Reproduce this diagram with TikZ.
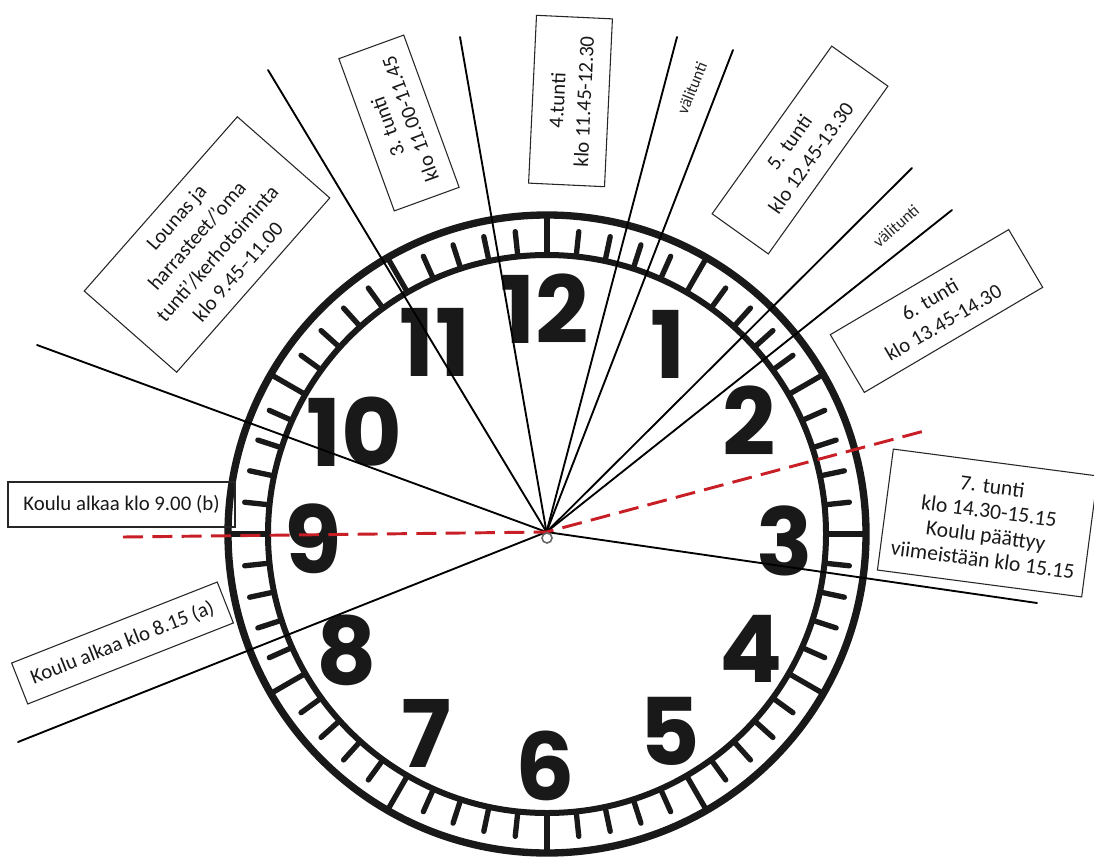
\documentclass[tikz,border=0pt]{standalone}
\usepackage{fontspec}
\setmainfont{Carlito}
\newfontfamily\numfont{Poppins}[Numbers=Proportional]
\begin{document}
\begin{tikzpicture}[x=0.75pt,y=0.75pt,
  box/.style={draw=black!85, line width=0.8pt, align=center, inner sep=0pt, text=black!90,
    font=\fontsize{15.6}{20}\selectfont},
  smalltext/.style={inner sep=0pt, text=black!85, font=\fontsize{12.5}{14}\selectfont},
  ray/.style={line width=1.4pt, line cap=round},
  reddash/.style={draw={rgb,255:red,200;green,30;blue,38}, line width=2.2pt, dash pattern=on 15pt off 7pt},
  num/.style={font=\numfont\bfseries\fontsize{70}{70}\selectfont, inner sep=0pt, text=black!90},
  longtick/.style={line width=4pt},
  shorttick/.style={line width=4pt, line cap=round}]

\fill[white] (0,0) rectangle (1094,-859);
\useasboundingbox (0,0) rectangle (1094,-859);

% clock face
\coordinate (C) at (547,-534);
\draw[line width=5.5pt, black!90] (C) circle[radius=319];
\draw[line width=4.5pt, black!90] (C) circle[radius=279];
\foreach \i in {0,...,59}{
  \pgfmathtruncatemacro\m{mod(\i,5)}
  \ifnum\m=0
    \draw[longtick, black!90] ([shift={(6*\i:279)}]C) -- ([shift={(6*\i:319)}]C);
  \else
    \draw[shorttick, black!90] ([shift={(6*\i:279)}]C) -- ([shift={(6*\i:304)}]C);
  \fi
}

% numerals
\node[num] (n12) at (545,-309) {12};
\node[num] (n1)  at (668,-344) {1};
\node[num] (n2)  at (749,-421) {2};
\node[num] (n3)  at (785,-541) {3};
\node[num] (n4)  at (751,-649) {4};
\node[num] (n5)  at (670,-731) {5};
\node[num] (n6)  at (545,-766) {6};
\node[num] (n7)  at (426,-733) {7};
\node[num] (n8)  at (347,-650) {8};
\node[num] (n9)  at (313,-539) {9};
\node[num] (n10) at (354,-432) {10};
\node[num] (n11) at (435,-342) {11};

% rays
\coordinate (O) at (546.5,-532);
\coordinate (e1) at (37,-345);
\coordinate (e2) at (18,-742);
\coordinate (e3) at (1037,-603);
\coordinate (e4) at (268,-70);
\coordinate (e5) at (460,-37);
\coordinate (e6) at (677,-37);
\coordinate (e7) at (733,-50);
\coordinate (e8) at (912,-168);
\coordinate (e9) at (952,-210);
\foreach \e in {e1,e2,e3,e4,e5,e6,e7,e8,e9}{\draw[ray] (O) -- (\e);}

% red dashed hands
\coordinate (r1) at (123,-537);
\coordinate (r2) at (928,-430);
\draw[reddash] (r1) -- (O) -- (r2);

% centre pin
\draw[black!60, line width=1.2pt, fill=white] (547,-538) circle[radius=5];

% boxes
\node[box, rotate=48.7, minimum width=174pt, minimum height=92.25pt, font=\fontsize{15.6}{20.5}\selectfont] (lounas) at (207,-244.5)
  {Lounas ja\\harrasteet/’oma\\tunti’/kerhotoiminta\\klo 9.45–11.00};
\node[box, minimum width=170.25pt, minimum height=33.75pt] (kouluB) at (121.5,-504.5) {Koulu alkaa klo 9.00 (b)};
\node[box, rotate=21.5, minimum width=165.75pt, minimum height=33pt] (kouluA) at (122.5,-643) {Koulu alkaa klo 8.15 (a)};
\node[box, rotate=110, minimum width=121.5pt, minimum height=51.75pt, font=\fontsize{15.6}{18}\selectfont] (t3) at (399,-123) {3. tunti\\klo 11.00-11.45};
\node[box, rotate=87.3, minimum width=126pt, minimum height=57pt] (t4) at (570.5,-101) {4.tunti\\klo 11.45-12.30};
\node[smalltext, rotate=68] (v1) at (692,-88) {välitunti};
\node[box, rotate=54.5, minimum width=154.5pt, minimum height=51.75pt] (t5) at (800,-150) {5. tunti\\klo 12.45-13.30};
\node[smalltext, rotate=41.5] (v2) at (896,-226) {välitunti};
\node[box, rotate=30.5, minimum width=155.25pt, minimum height=50.25pt] (t6) at (936.5,-311) {6. tunti\\klo 13.45-14.30};
\node[box, rotate=-7.5, minimum width=154.5pt, minimum height=91.5pt, font=\fontsize{16.2}{18.5}\selectfont] (t7) at (987.5,-523)
  {7. tunti\\klo 14.30-15.15\\Koulu päättyy\\viimeistään klo 15.15};
\end{tikzpicture}
\end{document}
